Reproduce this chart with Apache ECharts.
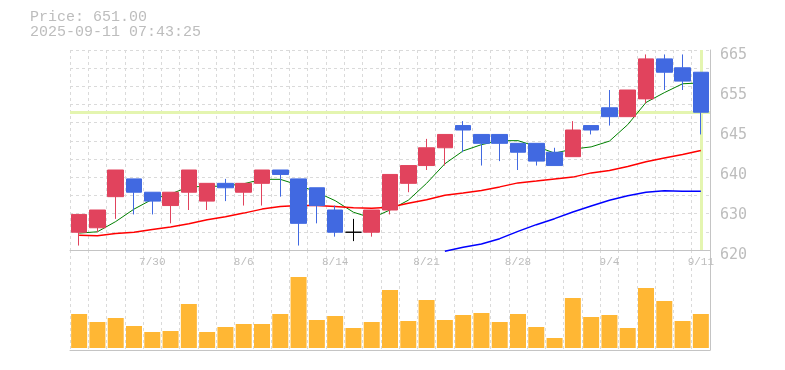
<!DOCTYPE html>
<html>
<head>
<meta charset="utf-8">
<script src="https://cdn.jsdelivr.net/npm/echarts@6/dist/echarts.min.js"></script>
<style>
html,body{margin:0;padding:0;background:#fff;}
#chart{width:785px;height:370px;}
</style>
</head>
<body>
<div id="chart"></div>
<script>
// ---- data ----
const categories = ['7/24','7/25','7/28','7/29','7/30','7/31','8/1','8/4','8/5','8/6','8/7','8/8','8/12','8/13','8/14','8/15','8/18','8/19','8/20','8/21','8/22','8/25','8/26','8/27','8/28','8/29','9/1','9/2','9/3','9/4','9/5','9/8','9/9','9/10','9/11'];
const openPrices  = [624,625,632,636,633,630,633,631,635,633,635,638,636,634,629,624,624,629,635,639,643,648,646,646,644,644,642,641,648,652,650,654,663,661,660];
const closePrices = [628,629,638,633,631,633,638,635,634,635,638,637,626,630,624,624,629,637,639,643,646,647,644,644,642,640,639,647,647,650,656,663,660,658,651];
const lowPrices   = [621,624,627,628,628,626,629,629,631,630,630,632,621,626,623,622,623,628,633,638,639,642,639,640,638,639,639,641,646,648,650,653,656,656,646];
const highPrices  = [628,629,638,636,633,633,638,635,636,635,638,638,636,634,630,627,629,637,639,645,646,649,646,646,644,644,643,649,648,656,656,664,664,664,660];
const ma5  = [623.8,624.1,626.4,629.2,631.4,632.6,634.2,634.3,634.4,634.9,635.9,635.9,634.6,633.0,631.1,628.5,627.2,629.0,631.2,635.0,639.4,642.3,643.7,644.6,644.6,643.3,641.8,642.7,643.2,644.5,648.2,653.2,655.4,657.4,657.6];
const ma25 = [623.3,623.2,623.7,624.0,624.6,625.2,625.9,626.8,627.5,628.3,629.2,629.8,630.0,630.0,629.8,629.5,629.4,629.6,630.5,631.3,632.3,632.8,633.4,634.2,635.1,635.5,636.0,636.4,637.35,637.9,638.8,639.85,640.7,641.5,642.4];
const ma75 = [null,null,null,null,null,null,null,null,null,null,null,null,null,null,null,null,null,null,null,null,619.7,620.6,621.35,622.55,624.2,625.7,627.05,628.55,629.9,631.2,632.2,633.0,633.35,633.2,633.2];
const volumes = [34,26,30,22,16,17,44,16,21,24,24,34,71,28,32,20,26,58,27,48,28,33,35,26,34,21,10,50,31,33,20,60,47,27,34];
const priceTickLabels = ['620','630','640','645','655','665'];
const lastPrice = 651.00;
const timestamp = '2025-09-11 07:43:25';

// ---- styles ----
const UP = '#e1435d', DOWN = '#4169e1';
const GRID_C = '#dadada', AXIS_C = '#c4c4c4', TEXT_C = '#bdbdbd';
const CURSOR_C = '#e4f5b0';

const ohlc = categories.map((c, i) => [openPrices[i], closePrices[i], lowPrices[i], highPrices[i]]);
const dashed = {show: true, interval: 0, lineStyle: {color: GRID_C, type: [3, 3], width: 1}};

const chart = echarts.init(document.getElementById('chart'), null, {renderer: 'canvas'});
chart.setOption({
  animation: false,
  backgroundColor: '#fff',
  title: {
    text: 'Price: ' + lastPrice.toFixed(2) + '\n' + timestamp,
    left: 30, top: 10, padding: 0,
    textStyle: {fontFamily: 'Liberation Mono', fontSize: 15, lineHeight: 15, fontWeight: 'normal', color: TEXT_C}
  },
  grid: [
    {left: 70, right: 75, top: 50, height: 200},
    {left: 70, right: 75, top: 250, height: 100},
    {left: 70, right: 75, top: 55, height: 200}
  ],
  xAxis: [
    {type: 'category', gridIndex: 0, data: categories, boundaryGap: true,
     axisLine: {lineStyle: {color: AXIS_C}}, axisTick: {show: false},
     axisLabel: {interval: (i) => i % 5 === 4, color: TEXT_C, fontFamily: 'Liberation Mono', fontSize: 11, margin: 7},
     splitLine: dashed},
    {type: 'category', gridIndex: 1, data: categories, boundaryGap: true,
     axisLine: {onZero: false, lineStyle: {color: AXIS_C}}, axisTick: {show: false}, axisLabel: {show: false},
     splitLine: dashed},
    {type: 'category', gridIndex: 2, data: categories, show: false}
  ],
  yAxis: [
    {type: 'value', gridIndex: 0, min: 620, max: 665, show: false},
    {type: 'value', gridIndex: 0, min: 0, max: 11, interval: 1, position: 'right',
     axisLine: {show: true, lineStyle: {color: AXIS_C}}, axisTick: {show: false}, axisLabel: {show: false},
     splitLine: {show: true, lineStyle: {color: GRID_C, type: [3, 3], width: 1}}},
    {type: 'value', gridIndex: 2, min: 0, max: 5, interval: 1, position: 'right',
     axisLine: {show: false}, axisTick: {show: false}, splitLine: {show: false},
     axisLabel: {formatter: (v) => priceTickLabels[v], color: TEXT_C, fontFamily: 'DejaVu Sans Mono', fontSize: 15, margin: 10}},
    {type: 'value', gridIndex: 1, min: -2, max: 98, position: 'right',
     axisLine: {show: true, lineStyle: {color: AXIS_C}}, axisTick: {show: false}, axisLabel: {show: false}, splitLine: {show: false}}
  ],
  series: [
    {name: 'cursor', type: 'line', xAxisIndex: 0, yAxisIndex: 0, data: [], z: 1,
     markLine: {silent: true, z: 1, symbol: 'none', label: {show: false}, animation: false,
       lineStyle: {color: CURSOR_C, width: 3, type: 'solid'},
       data: [{yAxis: lastPrice}, {xAxis: categories[categories.length - 1]}]}},
    {name: 'MA5', type: 'line', xAxisIndex: 0, yAxisIndex: 0, data: ma5, symbol: 'none', z: 2,
     lineStyle: {color: '#008000', width: 1}},
    {name: 'MA25', type: 'line', xAxisIndex: 0, yAxisIndex: 0, data: ma25, symbol: 'none', z: 2,
     lineStyle: {color: '#ff0000', width: 1.5}},
    {name: 'MA75', type: 'line', xAxisIndex: 0, yAxisIndex: 0, data: ma75, symbol: 'none', z: 2, clip: false,
     lineStyle: {color: '#0000ff', width: 1.5}},
    {name: 'price', type: 'candlestick', xAxisIndex: 0, yAxisIndex: 0, data: ohlc, barWidth: 16, z: 3,
     itemStyle: {color: UP, color0: DOWN, borderColor: UP, borderColor0: DOWN, borderColorDoji: '#000', borderWidth: 1}},
    {name: 'volume', type: 'bar', xAxisIndex: 1, yAxisIndex: 3, data: volumes, barWidth: 16,
     itemStyle: {color: '#ffb734'}}
  ]
});
</script>
</body>
</html>
